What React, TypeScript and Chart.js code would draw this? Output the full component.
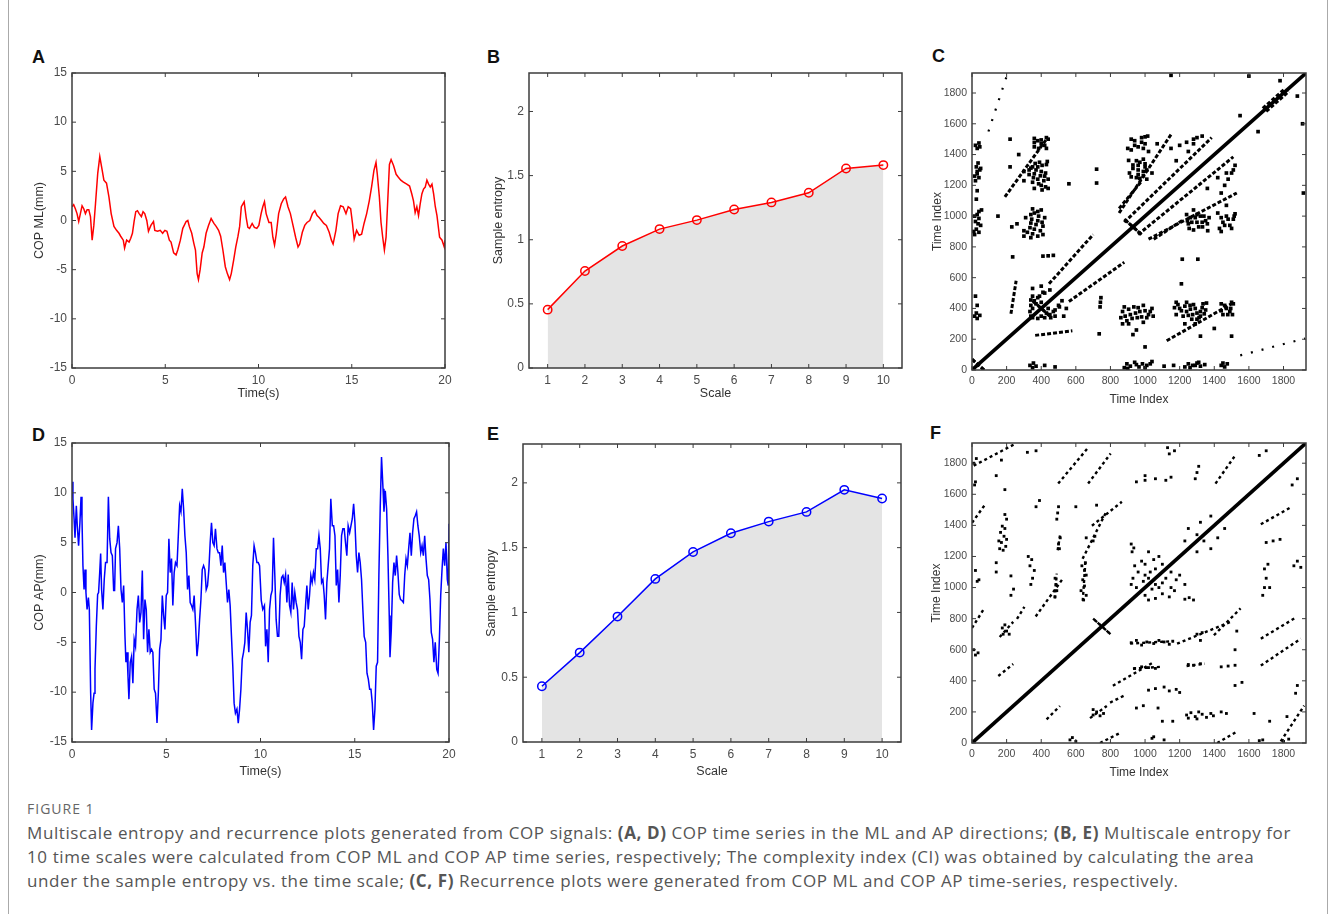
import React, { useEffect, useRef } from "react";
import { Chart, registerables } from "chart.js";
Chart.register(...registerables);

// ---------- COP ML time series (panel A) ----------
const mlTime = [
  0, 0.09, 0.18, 0.27, 0.36, 0.45, 0.54, 0.63, 0.72, 0.81, 0.9, 0.99,
  1.08, 1.17, 1.26, 1.38, 1.49, 1.62, 1.71, 1.85, 1.98, 2.1,
  2.25, 2.39, 2.52, 2.61, 2.75, 2.82, 2.93, 3.06, 3.15, 3.24,
  3.33, 3.42, 3.51, 3.6, 3.72, 3.81, 3.9, 4.01, 4.1, 4.23,
  4.37, 4.44, 4.59, 4.73, 4.86, 4.98, 5.09, 5.22, 5.31, 5.45,
  5.58, 5.67, 5.81, 5.94, 6.12, 6.21, 6.29, 6.42, 6.53, 6.62,
  6.71, 6.78, 6.87, 6.98, 7.07, 7.19, 7.32, 7.46, 7.61, 7.73,
  7.86, 7.97, 8.09, 8.22, 8.33, 8.45, 8.54, 8.67, 8.78, 8.9,
  8.99, 9.08, 9.23, 9.34, 9.43, 9.52, 9.66, 9.78, 9.91, 10.02,
  10.14, 10.23, 10.32, 10.41, 10.56, 10.68, 10.77, 10.86, 10.95, 11.08,
  11.22, 11.35, 11.45, 11.58, 11.71, 11.85, 11.99, 12.12, 12.21, 12.35,
  12.48, 12.6, 12.75, 12.89, 13.02, 13.14, 13.25, 13.38, 13.5, 13.64,
  13.79, 13.91, 14.0, 14.15, 14.27, 14.4, 14.54, 14.69, 14.81, 14.94,
  15.04, 15.13, 15.26, 15.4, 15.53, 15.66, 15.8, 15.94, 16.07, 16.19,
  16.3, 16.37, 16.48, 16.57, 16.66, 16.75, 16.84, 16.93, 17.02, 17.11,
  17.24, 17.38, 17.5, 17.63, 17.77, 17.95, 18.1, 18.22, 18.31, 18.4,
  18.49, 18.58, 18.67, 18.76, 18.85, 18.94, 19.03, 19.12, 19.21, 19.3,
  19.39, 19.48, 19.57, 19.71, 19.84, 19.96, 20.0,
];
const mlCOP = [
  1.4, 1.6, 1.2, 0.7, -0.1, 0.7, 1.5, 1.2, 0.7, 1.1, 1.1, 0.4,
  -2.0, -0.5, 1.7, 4.8, 6.5, 5.1, 4.1, 3.8, 2.4, 0.7,
  -0.6, -1.0, -1.3, -1.6, -2.0, -2.8, -2.0, -2.2, -1.8, -1.3,
  -0.1, 0.9, 1.0, 0.7, 0.4, 0.9, 0.7, 0.0, -1.1, -0.5,
  -0.1, -1.0, -1.1, -1.0, -1.3, -1.0, -1.1, -2.0, -2.2, -3.3,
  -3.5, -3.0, -2.0, -0.8, -0.1, 0.0, -0.6, -1.3, -2.3, -3.0,
  -5.4, -6.0, -5.0, -3.3, -2.7, -1.3, -0.5, 0.2, -0.3, -0.6,
  -1.0, -1.6, -3.0, -4.7, -5.4, -6.0, -5.4, -4.0, -2.7, -1.6,
  -0.6, 1.4, 1.9, 0.3, -0.7, -0.8, -0.3, -0.7, -0.8, -0.5,
  0.7, 1.4, 1.9, 0.7, -0.2, -0.2, -1.7, -2.5, -1.4, 0.7,
  1.7, 2.2, 2.4, 1.4, 0.7, -0.5, -1.7, -2.7, -2.4, -1.2,
  -0.5, -0.2, 0.0, 0.7, 1.0, 0.5, 0.3, 0.0, -0.3, -0.5,
  -1.2, -2.0, -2.4, -1.0, 0.7, 1.5, 1.4, 0.7, 1.4, 1.2,
  -0.3, -1.9, -1.0, -1.5, -1.4, -0.3, 0.7, 2.0, 3.5, 5.1,
  5.9, 4.7, 2.4, -0.2, -1.7, -3.0, -1.7, 2.0, 5.7, 6.2,
  5.6, 4.7, 4.4, 4.1, 3.9, 3.7, 3.5, 2.7, 2.0, 0.8,
  1.4, 0.5, 1.7, 2.7, 3.2, 3.4, 4.1, 3.7, 3.4, 3.7,
  2.7, 1.4, 0.5, -1.7, -2.0, -2.7, -2.0,
];

// ---------- COP AP time series (panel D) ----------
const apTime = [
  0.0, 0.05, 0.11, 0.16, 0.23, 0.28, 0.35, 0.42, 0.48, 0.53,
  0.58, 0.64, 0.69, 0.74, 0.8, 0.87, 0.92, 0.99, 1.04, 1.11,
  1.17, 1.22, 1.29, 1.36, 1.41, 1.47, 1.52, 1.57, 1.64, 1.71,
  1.78, 1.86, 1.93, 2.0, 2.07, 2.14, 2.21, 2.26, 2.31, 2.39,
  2.46, 2.53, 2.6, 2.67, 2.74, 2.81, 2.86, 2.92, 2.97, 3.02,
  3.09, 3.16, 3.23, 3.3, 3.37, 3.45, 3.52, 3.59, 3.66, 3.73,
  3.8, 3.87, 3.94, 4.01, 4.08, 4.15, 4.22, 4.29, 4.36, 4.43,
  4.51, 4.58, 4.65, 4.72, 4.79, 4.86, 4.93, 5.0, 5.07, 5.14,
  5.21, 5.28, 5.35, 5.42, 5.49, 5.57, 5.64, 5.71, 5.78, 5.85,
  5.92, 5.99, 6.06, 6.13, 6.2, 6.27, 6.34, 6.41, 6.48, 6.55,
  6.63, 6.7, 6.77, 6.84, 6.91, 6.98, 7.05, 7.12, 7.19, 7.26,
  7.33, 7.4, 7.47, 7.54, 7.61, 7.69, 7.76, 7.83, 7.9, 7.97,
  8.04, 8.11, 8.18, 8.25, 8.32, 8.39, 8.46, 8.53, 8.6, 8.67,
  8.75, 8.82, 8.89, 8.96, 9.03, 9.1, 9.17, 9.24, 9.31, 9.38,
  9.45, 9.52, 9.59, 9.66, 9.73, 9.81, 9.88, 9.95,
  10.04, 10.12, 10.21, 10.27, 10.34, 10.41, 10.48, 10.55, 10.62, 10.69,
  10.76, 10.83, 10.9, 10.97, 11.04, 11.12, 11.19, 11.26, 11.33, 11.4,
  11.47, 11.54, 11.61, 11.68, 11.75, 11.82, 11.89, 11.96, 12.04, 12.11,
  12.18, 12.25, 12.32, 12.39, 12.46, 12.53, 12.6, 12.67, 12.74, 12.81,
  12.88, 12.96, 13.03, 13.1, 13.17, 13.24, 13.31, 13.38, 13.45, 13.52,
  13.59, 13.66, 13.73, 13.81, 13.88, 13.95, 14.02, 14.09, 14.16, 14.23,
  14.3, 14.37, 14.44, 14.51, 14.58, 14.65, 14.73, 14.8, 14.87, 14.94,
  15.01, 15.08, 15.15, 15.22, 15.29, 15.36, 15.43, 15.5, 15.58, 15.65,
  15.72, 15.79, 15.86, 15.93, 16.0, 16.07, 16.14, 16.21, 16.28, 16.35,
  16.42, 16.5, 16.55, 16.62, 16.69, 16.76, 16.83, 16.87, 16.94, 17.01,
  17.08, 17.15, 17.22, 17.29, 17.36, 17.43, 17.5, 17.58, 17.65, 17.72,
  17.79, 17.86, 17.93, 18.0, 18.07, 18.14, 18.21, 18.28, 18.35, 18.42,
  18.5, 18.57, 18.64, 18.71, 18.78, 18.85, 18.92, 18.99, 19.06, 19.13,
  19.2, 19.27, 19.35, 19.42, 19.49, 19.56, 19.63, 19.7, 19.77, 19.84,
  19.91, 19.96, 20.0,
];
const apCOP = [
  11.1, 9.4, 7.4, 5.5, 8.7, 6.7, 4.7, 7.0, 9.6, 7.4,
  2.7, 0.3, 2.3, 0.0, -1.7, -0.5, -1.7, -10.1, -13.8, -11.1,
  -10.1, -7.7, -3.4, -0.2, 0.0, 2.0, 3.9, 0.3, -1.7, 1.3,
  3.0, 3.0, 9.6, 5.4, 4.0, 3.7, 0.2, 0.2, 4.4, 5.0,
  6.7, 4.4, 0.3, -1.0, 0.7, -4.4, -7.0, -6.0, -8.4, -10.7,
  -7.0, -6.4, -9.1, -4.7, -5.4, -1.7, -0.3, -3.0, -2.0, 2.2,
  -4.7, -0.7, -1.7, -6.0, -3.7, -6.0, -5.7, -6.0, -9.7, -10.1,
  -13.1, -10.1, -5.7, -4.7, -0.3, -2.3, -3.7, -0.3, 0.0, 5.4,
  2.0, 3.4, -1.3, 2.0, 3.0, 2.7, 5.7, 8.7, 8.1, 10.4,
  8.4, 5.7, 4.0, 0.3, 1.7, -1.0, -1.3, -1.7, -0.3, -3.0,
  -6.4, -5.0, -2.7, -0.7, 2.3, 2.7, 2.3, 0.3, 0.7, 2.3,
  5.0, 7.0, 5.0, 4.7, 6.4, 4.4, 4.0, 4.0, 2.7, 4.7,
  2.0, 3.0, 1.0, -1.0, 0.3, -1.3, -4.4, -7.4, -11.1, -12.1,
  -11.7, -13.1, -11.7, -9.7, -6.7, -6.0, -5.0, -2.0, -3.7, -6.0,
  -3.0, -2.3, 2.7, 4.7, 4.0, 3.0, 3.0, 2.7,
  -0.8, -1.7, -1.3, -5.4, -3.7, -7.0, -1.7, -0.3, 0.2, 5.5,
  1.7, -2.7, -4.4, -4.4, -0.3, 1.5, 1.7, 1.0, 1.8, -1.0,
  1.8, -1.3, -2.0, 1.0, -1.7, 0.0, -1.0, -1.7, -4.4, -5.0,
  -6.7, -3.7, -3.4, -1.3, 0.7, -1.7, -0.3, 1.7, 1.0, 2.0,
  1.3, 4.4, 4.4, 5.7, 4.4, 1.0, 1.3, -0.3, -2.7, 1.0,
  2.7, 4.4, 9.4, 6.7, 6.7, 5.7, 0.7, 2.3, -1.0, 1.7,
  5.7, 6.4, 6.4, 5.0, 3.7, 6.7, 6.0, 6.7, 7.4, 8.9,
  7.0, 3.7, 2.0, 4.0, 3.0, 1.3, -1.7, -4.4, -5.0, -8.1,
  -8.7, -9.7, -9.7, -11.1, -13.8, -11.7, -7.4, -7.0, 1.7, 8.4,
  13.6, 10.4, 8.1, 10.2, 8.4, 3.7, -2.3, -6.5, -3.7, 1.0,
  3.0, 1.7, 3.7, 2.0, -0.2, -0.7, -0.8, -1.0, 1.7, 3.4,
  2.7, 4.4, 6.0, 3.7, 6.0, 7.4, 7.7, 8.1, 6.7, 5.7,
  4.0, 4.7, 3.7, 5.7, 3.4, 1.7, 1.3, -0.7, -4.0, -4.7,
  -7.0, -5.0, -7.7, -8.1, -4.7, -0.3, 2.3, 4.4, 2.7, 5.0,
  1.3, 0.7, 6.9,
];

// ---------- Multiscale entropy (panels B, E) ----------
const entropyScales = [1, 2, 3, 4, 5, 6, 7, 8, 9, 10];
const mseML = [0.455, 0.756, 0.951, 1.083, 1.153, 1.236, 1.291, 1.366, 1.556, 1.582];
const mseAP = [0.43, 0.69, 0.968, 1.259, 1.467, 1.611, 1.701, 1.776, 1.946, 1.879];

// ---------- tick labels ----------
const timeTicks = [0, 5, 10, 15, 20];
const copTicks = [-15, -10, -5, 0, 5, 10, 15];
const scaleTicks = [1, 2, 3, 4, 5, 6, 7, 8, 9, 10];
const entropyTicks = [0, 0.5, 1, 1.5, 2];
const indexTicks = [0, 200, 400, 600, 800, 1000, 1200, 1400, 1600, 1800];

// ---------- Recurrence plots (C, F): lower-triangle structures, mirrored ----------
// solid-ish dotted segments [x1, y1, x2, y2] in time-index units
const cLines = [
  [560, 445, 880, 700],
  [365, 225, 580, 255],
  [1125, 190, 1510, 437],
  [960, 880, 1510, 1385],
  [1020, 850, 1530, 1150],
  [1050, 850, 1220, 975],
  [880, 980, 980, 880],
  [350, 450, 450, 350],
  [0, 70, 70, 0],
  [1700, 1680, 1830, 1810],
];
// sparse dotted segments
const cSparseLines = [
  [1550, 95, 1925, 205],
];
const cDots = [
  // bottom band
  [335, 30], [350, 15], [355, 45], [370, 25], [420, 30], [480, 20],
  [880, 15], [895, 40], [900, 10], [915, 25], [940, 50], [950, 35], [965, 20], [985, 40],
  [1000, 15], [1010, 30], [1030, 40], [1040, 55],
  [1110, 25], [1165, 30],
  [1230, 20], [1250, 40], [1260, 15], [1275, 30], [1290, 30], [1300, 45], [1310, 50], [1320, 25], [1345, 35],
  [1440, 30], [1450, 45], [1460, 20], [1475, 40],
  // near (400,400)
  [350, 340], [380, 335], [400, 350], [420, 340], [430, 370], [440, 400], [455, 340], [450, 360],
  [470, 380], [480, 390], [480, 350], [500, 420], [505, 410], [520, 450], [530, 350], [545, 400],
  // x~740
  [735, 235], [740, 410], [742, 440], [745, 470],
  // cluster 855-1050 / 290-420
  [860, 340], [870, 380], [870, 300], [880, 410], [885, 350], [895, 320], [905, 395], [905, 300],
  [915, 360], [925, 335], [935, 410], [945, 370], [955, 340], [960, 405], [970, 380], [980, 345],
  [990, 420], [990, 310], [1000, 385], [1010, 340], [1020, 360], [1030, 380], [1040, 400], [1047, 350],
  [950, 260], [930, 230],
  // cluster 1160-1360 / 300-440
  [1170, 405], [1180, 360], [1180, 440], [1190, 425], [1200, 400], [1210, 385], [1220, 350],
  [1230, 415], [1230, 300], [1240, 380], [1240, 440], [1250, 355], [1260, 420], [1262, 395],
  [1270, 330], [1275, 360], [1280, 425], [1290, 400], [1290, 300], [1300, 370], [1300, 330],
  [1312, 340], [1320, 380], [1320, 350], [1330, 405], [1335, 430], [1342, 365], [1350, 390], [1355, 435],
  // cluster 1430-1515
  [1440, 385], [1440, 430], [1450, 360], [1460, 420], [1470, 400], [1478, 360], [1490, 380],
  [1495, 400], [1500, 440], [1505, 360], [1510, 430],
  // misc lower
  [1320, 220], [1400, 270], [1500, 220], [1210, 560], [1215, 720], [1305, 720], [1000, 150],
  // SS cluster
  [1240, 1010], [1245, 970], [1250, 950], [1255, 920], [1262, 990], [1270, 960], [1280, 910],
  [1280, 1040], [1290, 990], [1300, 960], [1300, 1010], [1310, 930], [1320, 1000], [1330, 960],
  [1332, 930], [1340, 1000], [1350, 970], [1360, 950], [1362, 905], [1370, 990],
  // right cluster
  [1420, 1020], [1430, 920], [1440, 900], [1440, 990], [1450, 960], [1460, 940], [1470, 1000],
  [1480, 980], [1490, 940], [1500, 920], [1510, 980], [1515, 1000], [1520, 1015], [1470, 1070],
  [1420, 1250], [1440, 1150], [1460, 1200], [1470, 1280], [1480, 1240], [1500, 1280],
  [1510, 1300], [1520, 1330], [1360, 1180],
  // right edge
  [1915, 1150], [1910, 1600], [1880, 1780], [1653, 1549],
];
const fLines = [
  [740, 0, 856, 65],
  [1417, 0, 1533, 75],
  [1784, 10, 1919, 240],
  [431, 152, 508, 238],
  [682, 160, 779, 238],
  [798, 260, 876, 303],
  [814, 368, 1050, 520],
  [930, 478, 1090, 490],
  [1240, 495, 1345, 510],
  [914, 640, 1165, 655],
  [1185, 639, 1494, 779],
  [1398, 693, 1552, 866],
  [1669, 671, 1862, 801],
  [1669, 498, 1900, 671],
  [1669, 1407, 1842, 1516],
  [700, 800, 800, 700],
];
const fSparseLines = [];
const fDots = [
  [566, 20], [580, 35], [600, 10],
  [1040, 30], [1110, 20], [1660, 15], [1680, 20], [1800, 10], [1830, 25],
  [1100, 140], [1050, 40],
  [700, 180], [720, 200], [740, 175], [760, 190], [700, 215],
  [1075, 225], [1160, 140],
  [1240, 180], [1265, 195], [1290, 170], [1310, 200], [1330, 185], [1355, 165],
  [1380, 190], [1395, 175], [1250, 160], [1300, 155],
  [1440, 200], [1470, 190], [1630, 190], [1720, 140], [1820, 170],
  [1870, 320], [1880, 370], [950, 225], [990, 240],
  [1020, 340], [1060, 350], [1110, 360], [1140, 335], [1180, 345], [1200, 325],
  [1520, 370], [1560, 390],
  [940, 480], [980, 490], [1020, 485], [1060, 480], [1250, 505], [1280, 500], [1320, 510],
  [1440, 490], [1480, 495], [1520, 500],
  [920, 645], [950, 660], [980, 630], [1010, 650], [1050, 640], [1080, 660], [1110, 650],
  [1140, 635], [1160, 655],
  [1300, 700], [1330, 710], [1320, 660], [1520, 600], [1530, 720],
  [1230, 925], [1255, 935], [1280, 920],
  [1000, 950], [1040, 990], [1080, 1000], [1100, 960], [1150, 1000], [1180, 1050],
  [1200, 1080], [1120, 1060], [1060, 930], [1020, 920], [1140, 940], [1230, 1020],
  [1060, 1020], [1150, 1100], [1100, 1030], [1170, 980],
  [1680, 950], [1690, 1000], [1700, 1060], [1690, 1120], [1710, 1150], [1720, 1000],
  [1860, 1140], [1880, 1170], [1900, 1130],
  [1340, 1300], [1380, 1250], [1420, 1320], [1300, 1230], [1460, 1380],
  [1700, 1290], [1740, 1300], [1780, 1310], [1880, 1700], [1850, 1660],
];
const rpMax = 1930;

// ---------- helpers ----------
const TICK_COLOR = "#4a4a4a";
const TITLE_COLOR = "#333333";
const FONT = "'Liberation Sans', Arial, sans-serif";

const framePlugin = {
  id: "matlabFrame",
  afterDraw(chart: any) {
    const { ctx, chartArea: a, scales } = chart;
    const len = 4;
    ctx.save();
    ctx.strokeStyle = "#3c3c3c";
    ctx.lineWidth = 1;
    ctx.beginPath();
    scales.x.ticks.forEach((t: any) => {
      const px = scales.x.getPixelForValue(t.value);
      ctx.moveTo(px, a.bottom);
      ctx.lineTo(px, a.bottom - len);
      ctx.moveTo(px, a.top);
      ctx.lineTo(px, a.top + len);
    });
    scales.y.ticks.forEach((t: any) => {
      const py = scales.y.getPixelForValue(t.value);
      ctx.moveTo(a.left, py);
      ctx.lineTo(a.left + len, py);
      ctx.moveTo(a.right, py);
      ctx.lineTo(a.right - len, py);
    });
    ctx.stroke();
    ctx.lineWidth = 1.5;
    ctx.strokeRect(a.left, a.top, a.right - a.left, a.bottom - a.top);
    ctx.restore();
  },
};

type Geo = { L: number; T: number; W: number; H: number; YW: number; XH: number; PT: number; PR: number };

function axis(opts: {
  min: number; max: number; ticks: number[]; size: number; isX: boolean;
  title: string; tickSize: number; titleSize: number;
}) {
  return {
    type: "linear",
    min: opts.min,
    max: opts.max,
    afterBuildTicks: (s: any) => {
      s.ticks = opts.ticks.map((v) => ({ value: v }));
    },
    afterFit: (s: any) => {
      if (opts.isX) s.height = opts.size;
      else s.width = opts.size;
    },
    grid: { display: false, drawTicks: false },
    border: { display: false },
    ticks: {
      autoSkip: false,
      maxRotation: 0,
      padding: 5,
      color: TICK_COLOR,
      font: { family: FONT, size: opts.tickSize },
      callback: (v: any) => String(v),
    },
    title: {
      display: true,
      text: opts.title,
      color: TITLE_COLOR,
      padding: 0,
      font: { family: FONT, size: opts.titleSize },
    },
  };
}

function baseOptions(g: Geo, x: any, y: any) {
  return {
    animation: false,
    responsive: false,
    maintainAspectRatio: false,
    events: [],
    layout: { autoPadding: false, padding: { top: g.PT, right: g.PR, left: 0, bottom: 0 } },
    plugins: { legend: { display: false }, tooltip: { enabled: false } },
    scales: { x, y },
  };
}

function timeSeriesConfig(g: Geo, times: number[], values: number[], color: string, yTitle: string) {
  return {
    type: "line",
    data: {
      datasets: [
        {
          data: times.map((t, i) => ({ x: t, y: values[i] })),
          borderColor: color,
          borderWidth: 1.5,
          pointRadius: 0,
          tension: 0,
          fill: false,
        },
      ],
    },
    options: baseOptions(
      g,
      axis({ min: 0, max: 20, ticks: timeTicks, size: g.XH, isX: true, title: "Time(s)", tickSize: 12, titleSize: 12.5 }),
      axis({ min: -15, max: 15, ticks: copTicks, size: g.YW, isX: false, title: yTitle, tickSize: 12, titleSize: 12.5 })
    ),
    plugins: [framePlugin],
  };
}

function entropyConfig(g: Geo, values: number[], color: string) {
  return {
    type: "line",
    data: {
      datasets: [
        {
          data: entropyScales.map((s, i) => ({ x: s, y: values[i] })),
          borderColor: color,
          borderWidth: 1.5,
          backgroundColor: "#e4e4e4",
          fill: "origin",
          tension: 0,
          pointStyle: "circle",
          pointRadius: 4.2,
          pointBorderWidth: 1.5,
          pointBorderColor: color,
          pointBackgroundColor: "rgba(0,0,0,0)",
        },
      ],
    },
    options: baseOptions(
      g,
      axis({ min: 0.5, max: 10.5, ticks: scaleTicks, size: g.XH, isX: true, title: "Scale", tickSize: 12, titleSize: 12.5 }),
      axis({ min: 0, max: 2.3, ticks: entropyTicks, size: g.YW, isX: false, title: "Sample entropy", tickSize: 12, titleSize: 12.5 })
    ),
    plugins: [framePlugin],
  };
}

function recurrenceConfig(
  g: Geo, lines: number[][], sparse: number[][], dots: number[][],
  lineW: number, dash: number[], dotR: number
) {
  const mirror = (arr: number[][]) => arr.concat(arr.map(([x1, y1, x2, y2]) => [y1, x1, y2, x2]));
  const allDots = dots.concat(dots.map(([x, y]) => [y, x]));
  const datasets: any[] = [
    {
      data: [{ x: 0, y: 0 }, { x: rpMax, y: rpMax }],
      showLine: true,
      borderColor: "#000",
      borderWidth: 3.6,
      pointRadius: 0,
    },
  ];
  mirror(lines).forEach(([x1, y1, x2, y2]) => {
    datasets.push({
      data: [{ x: x1, y: y1 }, { x: x2, y: y2 }],
      showLine: true,
      borderColor: "#000",
      borderWidth: lineW,
      borderDash: dash,
      pointRadius: 0,
    });
  });
  mirror(sparse).forEach(([x1, y1, x2, y2]) => {
    datasets.push({
      data: [{ x: x1, y: y1 }, { x: x2, y: y2 }],
      showLine: true,
      borderColor: "#000",
      borderWidth: 2.2,
      borderDash: [2, 9],
      pointRadius: 0,
    });
  });
  datasets.push({
    data: allDots.map(([x, y]) => ({ x, y })),
    pointStyle: "rect",
    pointRadius: dotR,
    backgroundColor: "#000",
    borderWidth: 0,
    showLine: false,
  });
  return {
    type: "scatter",
    data: { datasets },
    options: baseOptions(
      g,
      axis({ min: 0, max: rpMax, ticks: indexTicks, size: g.XH, isX: true, title: "Time Index", tickSize: 10.5, titleSize: 12 }),
      axis({ min: 0, max: rpMax, ticks: indexTicks, size: g.YW, isX: false, title: "Time Index", tickSize: 10.5, titleSize: 12 })
    ),
    plugins: [framePlugin],
  };
}

function Panel({ g, make }: { g: Geo; make: () => any }) {
  const ref = useRef<HTMLCanvasElement | null>(null);
  useEffect(() => {
    const chart = new Chart(ref.current as any, make());
    return () => chart.destroy();
  }, []);
  return (
    <canvas
      ref={ref}
      width={g.W}
      height={g.H}
      style={{ position: "absolute", left: g.L, top: g.T, width: g.W, height: g.H }}
    />
  );
}

const geoA: Geo = { L: 32, T: 60, W: 428, H: 341, YW: 40, XH: 33, PT: 13, PR: 15 };
const geoB: Geo = { L: 491, T: 60, W: 426, H: 341, YW: 38, XH: 33, PT: 13, PR: 15 };
const geoC: Geo = { L: 930, T: 60, W: 391, H: 347, YW: 42, XH: 37, PT: 13, PR: 15 };
const geoD: Geo = { L: 32, T: 430, W: 432, H: 349, YW: 40, XH: 37, PT: 13, PR: 15 };
const geoE: Geo = { L: 484, T: 430, W: 432, H: 349, YW: 39, XH: 37, PT: 14, PR: 15 };
const geoF: Geo = { L: 929, T: 430, W: 392, H: 350, YW: 43, XH: 37, PT: 13, PR: 15 };

const letterStyle = (left: number, top: number): React.CSSProperties => ({
  position: "absolute",
  left,
  top,
  fontFamily: FONT,
  fontWeight: 700,
  fontSize: 18,
  lineHeight: "18px",
  color: "#111",
});

const capStyle = (top: number): React.CSSProperties => ({
  position: "absolute",
  left: 27,
  top,
  fontFamily: "'Open Sans', sans-serif",
  fontSize: 17,
  letterSpacing: 0.6,
  lineHeight: "24px",
  color: "#555",
  whiteSpace: "nowrap",
});

export default function App() {
  return (
    <div
      style={{
        position: "absolute",
        left: 0,
        top: 0,
        width: 1335,
        height: 914,
        background: "#fff",
        overflow: "hidden",
      }}
    >
      <div style={{ position: "absolute", left: 8, top: 0, width: 1, height: 914, background: "#aaa" }} />
      <div style={{ position: "absolute", left: 1327, top: 0, width: 1, height: 914, background: "#aaa" }} />

      <div style={letterStyle(32, 48)}>A</div>
      <div style={letterStyle(487, 48)}>B</div>
      <div style={letterStyle(932, 47)}>C</div>
      <div style={letterStyle(32, 426)}>D</div>
      <div style={letterStyle(487, 425)}>E</div>
      <div style={letterStyle(930, 424)}>F</div>

      <Panel g={geoA} make={() => timeSeriesConfig(geoA, mlTime, mlCOP, "#ff0000", "COP ML(mm)")} />
      <Panel g={geoB} make={() => entropyConfig(geoB, mseML, "#ff0000")} />
      <Panel g={geoC} make={() => recurrenceConfig(geoC, cLines, cSparseLines, cDots, 3, [4, 2], 2.6)} />
      <Panel g={geoD} make={() => timeSeriesConfig(geoD, apTime, apCOP, "#0000ff", "COP AP(mm)")} />
      <Panel g={geoE} make={() => entropyConfig(geoE, mseAP, "#0000ff")} />
      <Panel g={geoF} make={() => recurrenceConfig(geoF, fLines, fSparseLines, fDots, 2.4, [3, 3], 2.0)} />

      <div
        style={{
          position: "absolute",
          left: 27,
          top: 801,
          fontFamily: "'Open Sans', sans-serif",
          fontSize: 14,
          lineHeight: "16px",
          color: "#666",
          letterSpacing: 1,
        }}
      >
        FIGURE 1
      </div>
      <div style={capStyle(821)}>
        Multiscale entropy and recurrence plots generated from COP signals: <b>(A, D)</b> COP time series in the ML and AP
        directions; <b>(B, E)</b> Multiscale entropy for
      </div>
      <div style={capStyle(845)}>
        10 time scales were calculated from COP ML and COP AP time series, respectively; The complexity index (CI) was
        obtained by calculating the area
      </div>
      <div style={capStyle(869)}>
        under the sample entropy vs. the time scale; <b>(C, F)</b> Recurrence plots were generated from COP ML and COP AP
        time-series, respectively.
      </div>
    </div>
  );
}
